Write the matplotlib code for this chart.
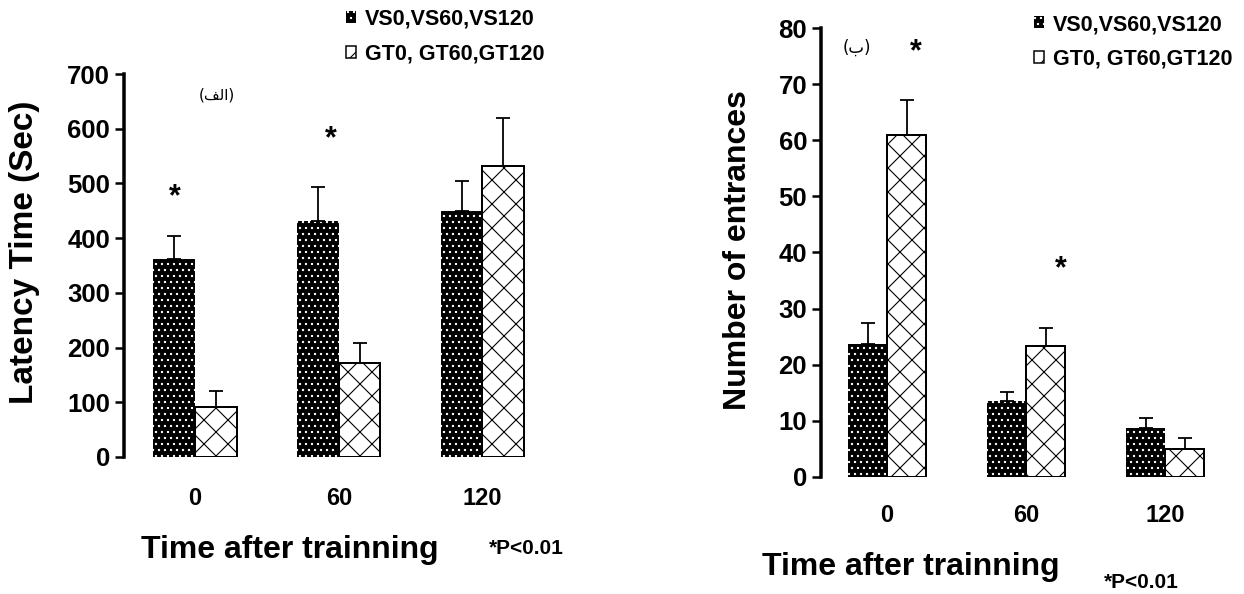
import matplotlib
matplotlib.use('Agg')
import matplotlib.pyplot as plt
from matplotlib.patches import Patch
import numpy as np

# drawn at 72 dpi so the hatch cell is 72 px (finer dots / crosses);
# S converts the "100 dpi" point sizes I picked into that scale
DPI = 72
S = 100 / 72

plt.rcParams['font.family'] = ['Liberation Sans', 'DejaVu Sans']
plt.rcParams['font.weight'] = 'bold'
plt.rcParams['hatch.linewidth'] = 1.1

groups = ['0', '60', '120']
series_names = ['VS0,VS60,VS120', 'GT0, GT60,GT120']

# panel (alef) - latency
latency_vs = [362, 431, 449]
latency_vs_err = [42, 62, 56]
latency_gt = [91, 171, 531]
latency_gt_err = [29, 38, 89]

# panel (be) - number of entrances
entr_vs = [23.7, 13.5, 8.7]
entr_vs_err = [3.8, 1.7, 1.8]
entr_gt = [61.0, 23.4, 5.0]
entr_gt_err = [6.2, 3.1, 2.0]

W, H = 1244, 594
fig = plt.figure(figsize=(W / DPI, H / DPI), dpi=DPI)

def px(x, y):
    return x / W, 1 - y / H

def draw_panel(ax, vs, vs_err, gt, gt_err, ymax, ystep, width):
    x = np.arange(len(groups))
    ax.bar(x - width / 2, vs, width, color='black', edgecolor='white',
           linewidth=0, hatch='..')
    ax.bar(x + width / 2, gt, width, color='white', edgecolor='black',
           linewidth=2, hatch='x')
    ax.errorbar(x - width / 2, vs, yerr=[np.zeros(3), vs_err], fmt='none',
                ecolor='black', elinewidth=1.8, capsize=7, capthick=1.8)
    ax.errorbar(x + width / 2, gt, yerr=[np.zeros(3), gt_err], fmt='none',
                ecolor='black', elinewidth=1.8, capsize=7, capthick=1.8)
    ax.set_ylim(0, ymax)
    ax.set_yticks(np.arange(0, ymax + 1, ystep))
    for s in ['top', 'right', 'bottom']:
        ax.spines[s].set_visible(False)
    ax.spines['left'].set_linewidth(3.5)
    ax.tick_params(axis='y', direction='out', length=9, width=2.5,
                   labelsize=18.5 * S, pad=5)
    ax.set_xticks(x)
    ax.set_xticklabels(groups)
    ax.tick_params(axis='x', length=0, labelsize=17 * S)

# left panel
ax1 = fig.add_axes([124 / W, (H - 457) / H, 436 / W, 383 / H])
draw_panel(ax1, latency_vs, latency_vs_err, latency_gt, latency_gt_err, 700, 100, 0.29)
ax1.set_xlim(-0.495, 2.54)
ax1.tick_params(axis='x', pad=30)
ax1.text(-0.14, 475, '*', fontsize=22 * S, ha='center', va='center')
ax1.text(0.944, 580, '*', fontsize=22 * S, ha='center', va='center')
ax1.text(0.15, 662, '(\ufed2\ufedf\ufe8d)', fontsize=11 * S, ha='center', va='center',
         family=['DejaVu Sans'], fontweight='normal')

# right panel
ax2 = fig.add_axes([821 / W, (H - 477) / H, 404 / W, 449 / H])
draw_panel(ax2, entr_vs, entr_vs_err, entr_gt, entr_gt_err, 80, 10, 0.28)
ax2.set_xlim(-0.475, 2.43)
ax2.tick_params(axis='x', pad=27)
ax2.text(0.21, 75.7, '*', fontsize=22 * S, ha='center', va='center')
ax2.text(1.25, 37, '*', fontsize=22 * S, ha='center', va='center')
ax2.text(-0.22, 76.5, '(\ufe8f)', fontsize=12 * S, ha='center', va='center',
         family=['DejaVu Sans'], fontweight='normal')

# axis titles as figure text
fig.text(*px(25, 252), 'Latency Time (Sec)', rotation=90, fontsize=24 * S,
         ha='center', va='center')
fig.text(*px(738, 250), 'Number of entrances', rotation=90, fontsize=23 * S,
         ha='center', va='center')
fig.text(*px(290, 550), 'Time after trainning', fontsize=23 * S, ha='center', va='center')
fig.text(*px(911, 567), 'Time after trainning', fontsize=23 * S, ha='center', va='center')
fig.text(*px(526, 548), '*P<0.01', fontsize=15 * S, ha='center', va='center')
fig.text(*px(1141, 582), '*P<0.01', fontsize=15 * S, ha='center', va='center')

handles = [Patch(facecolor='black', edgecolor='white', linewidth=0, hatch='..'),
           Patch(facecolor='white', edgecolor='black', linewidth=1.5, hatch='/')]
for lx, ly in [(346, 9), (1034, 14)]:
    fig.legend(handles, series_names, loc='upper left',
               bbox_to_anchor=px(lx, ly), frameon=False,
               handlelength=0.47, handleheight=0.5, handletextpad=0.4,
               labelspacing=0.65, borderpad=0, borderaxespad=0,
               prop={'size': 15.5 * S, 'weight': 'bold'})

fig.savefig('out.png', dpi=DPI)
